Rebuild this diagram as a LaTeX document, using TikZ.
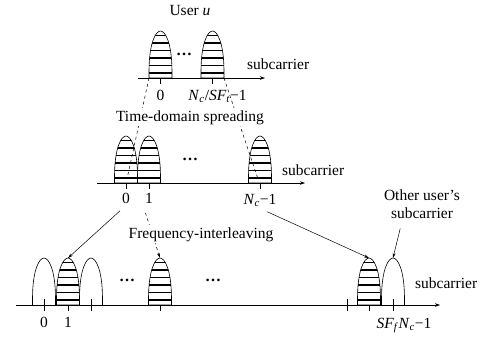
\documentclass[tikz,border=0pt]{standalone}
\usepackage{fontspec}
\setmainfont{Liberation Serif}
\usetikzlibrary{arrows.meta}

\begin{document}
\begin{tikzpicture}[x=1pt, y=-1pt,
    every node/.style={font=\fontsize{15.5}{18}\selectfont, inner sep=2pt},
    lbl/.style={anchor=base},
    title/.style={anchor=base, fill=white},
    dots/.style={font=\fontsize{16}{18}\selectfont\bfseries},
    axis/.style={line width=0.6pt, -{Stealth[length=5pt, width=3.5pt]}},
    tickmark/.style={line width=0.6pt},
    link/.style={line width=0.5pt, -{Stealth[length=5pt, width=3pt]}, shorten <=8pt},
    guide/.style={line width=0.5pt, dashed},
    bumpshape/.style={insert path={(-11.5,0) -- (-11.5,-6) .. controls (-11.5,-36) and (-4.5,-47) .. (0,-47) .. controls (4.5,-47) and (11.5,-36) .. (11.5,-6) -- (11.5,0)}},
    plain/.pic={\draw[line width=0.6pt, bumpshape];},
    hatched/.pic={
        \fill[white, bumpshape] -- cycle;
        \begin{scope}
            \clip[bumpshape] -- cycle;
            \foreach \k in {5,12.5,...,43} \draw[line width=1.1pt] (-12,-\k) -- (12,-\k);
        \end{scope}
        \draw[line width=0.6pt, bumpshape] -- cycle;}
]
\useasboundingbox (0,0) rectangle (485,338);

% user u, before spreading
\node[lbl] (user) at (190,15) {User \textit{u}};
\coordinate (ta) at (138,78);
\coordinate (tb) at (265,78);
\foreach \x in {160.5,212.5} \draw[tickmark] (\x,78) -- (\x,84);
\pic at (160.5,78) {hatched};
\pic at (212.5,78) {hatched};
\draw[axis] (ta) -- (tb);
\node[dots] (tdots) at (184,54) {…};
\node[lbl, anchor=base west] (tsub) at (245,69) {subcarrier};
\node[lbl] (t0) at (160.5,100) {0};
\node[lbl] (tN) at (217.5,100) {\textit{N}\textsubscript{\textit{c}}/\textit{SF}\textsubscript{\textit{t}}−1};
\coordinate (tl) at (149,78);
\coordinate (tr) at (224,78);

% after time-domain spreading
\coordinate (ma) at (97,183);
\coordinate (mb) at (305,183);
\foreach \x in {126,149,260} \draw[tickmark] (\x,177) -- (\x,189);
\foreach \x in {126,149,260} \pic at (\x,183) {hatched};
\draw[axis] (ma) -- (mb);
\node[dots] (mdots) at (190,159) {…};
\node[lbl, anchor=base west] (msub) at (280,175) {subcarrier};
\node[lbl] (m0) at (126,203) {0};
\node[lbl] (m1) at (149,203) {1};
\node[lbl] (mN) at (260,204) {\textit{N}\textsubscript{\textit{c}}−1};
\coordinate (ml) at (127,179);
\coordinate (mr) at (258,179);
\draw[guide] (tl) -- (ml);
\draw[guide] (tr) -- (mr);
\node[title] (tds) at (190,121) {Time-domain spreading};

% after frequency interleaving
\coordinate (ba) at (16,305);
\coordinate (bb) at (440,305);
\foreach \x in {44,68,91,160,347,369,393} \draw[tickmark] (\x,299) -- (\x,311);
\foreach \x in {44,91,393} \pic at (\x,305) {plain};
\foreach \x in {68,160,369} \pic at (\x,305) {hatched};
\draw[axis] (ba) -- (bb);
\node[dots] (bdots1) at (127,280) {…};
\node[dots] (bdots2) at (213,280) {…};
\node[lbl, anchor=base west] (bsub) at (413,288) {subcarrier};
\node[lbl] (b0) at (44,327) {0};
\node[lbl] (b1) at (68,327) {1};
\node[lbl] (bN) at (404,328) {\textit{SF}\textsubscript{\textit{f}}\textit{N}\textsubscript{\textit{c}}−1};
\node[align=center] (oth) at (422,204) {Other user’s\\subcarrier};
\coordinate (p1) at (68,258);
\coordinate (p2) at (160,258);
\coordinate (p3) at (369,258);
\coordinate (p4) at (393,258);
\draw[link] (m0.south) -- (p1);
\draw[link, dashed] (m1.south west) -- (p2);
\draw[link] (mN.south) -- (p3);
\draw[link] (oth.220) -- (p4);
\node[title] (fil) at (201,238) {Frequency-interleaving};

\end{tikzpicture}
\end{document}
